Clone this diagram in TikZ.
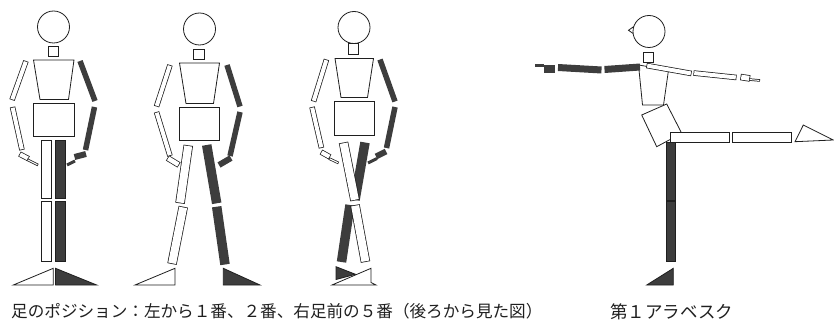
\documentclass[tikz,border=0pt]{standalone}
\usepackage{fontspec}
\newfontfamily\jpfont{Noto Sans CJK JP}
\definecolor{ink}{gray}{0.12}
\definecolor{dark}{gray}{0.24}

\begin{document}
\begin{tikzpicture}[
  x=1pt, y=-1pt,
  part/.style={draw=ink, line width=0.8pt, fill=white},
  darkpart/.style={draw=ink, line width=0.8pt, fill=dark},
  limb/.style={draw=ink, line width=#1, postaction={draw=white, line width=#1-1.5pt, shorten <=0.75pt, shorten >=0.75pt}},
  darklimb/.style={draw=dark, line width=#1},
  captext/.style={text=ink, inner sep=0pt, anchor=west}
]
\useasboundingbox (0,0) rectangle (834,323);

\draw[part] (53.5,27) circle[radius=16];
\draw[part] (48,46) rectangle (58,56);
\draw[part] (33.5,60) -- (74,60) -- (68.5,99.5) -- (40,99.5) -- cycle;
\draw[part] (33.5,103) rectangle (74,136);
\draw[limb=5.5pt] (26,61) -- (12,100);
\draw[limb=5.5pt] (12.5,107) -- (22,150);
\draw[limb=5.5pt] (19.5,154) -- (28.5,158.7);
\draw[limb=2.6pt] (27,159.5) -- (38,165);
\draw[darklimb=5.5pt] (80,61) -- (95,101);
\draw[darklimb=5.5pt] (94.5,107) -- (85.5,150);
\draw[darklimb=6pt] (86,154) -- (74.5,157);
\draw[darklimb=3pt] (75,161) -- (67,165);
\draw[part] (41.7,140) rectangle (51.7,198);
\draw[darkpart] (55.7,140) rectangle (65.7,198);
\draw[part] (41.7,201.5) rectangle (51.7,261.5);
\draw[darkpart] (55.7,201.5) rectangle (65.7,261.5);
\draw[part] (13.3,285) -- (53.3,268.3) -- (53.3,285) -- cycle;
\draw[darkpart] (55.5,268.3) -- (55.5,285) -- (96.7,285) -- cycle;

\draw[part] (199.5,29) circle[radius=16];
\draw[part] (193.5,49.5) rectangle (204,59.5);
\draw[part] (179.5,63) -- (219.5,63) -- (213.5,103.5) -- (186,103.5) -- cycle;
\draw[part] (179.5,107) rectangle (219.5,140);
\draw[limb=5.5pt] (170,65) -- (156.5,106.5);
\draw[limb=5.5pt] (156.5,112) -- (170,156);
\draw[limb=6pt] (167.5,158) -- (179,165);
\draw[darklimb=5.5pt] (227,65) -- (240,106.5);
\draw[darklimb=5.5pt] (240,112) -- (230,156);
\draw[darklimb=6pt] (231,158) -- (219,165);
\draw[limb=9.5pt] (188.3,145.3) -- (180,203.3);
\draw[limb=9.5pt] (183.3,206.7) -- (172,264);
\draw[darklimb=9.5pt] (206.7,145) -- (216.7,203.3);
\draw[darklimb=9.5pt] (216.7,206.7) -- (225,264.5);
\draw[part] (135,285) -- (175,268.3) -- (175,285) -- cycle;
\draw[darkpart] (223.3,268.3) -- (223.3,285) -- (260,285) -- cycle;

\draw[part] (354,27.5) circle[radius=16];
\draw[part] (348.5,43.5) rectangle (358.5,54);
\draw[part] (335,58.5) -- (373.5,58.5) -- (367.5,97.5) -- (341,97.5) -- cycle;
\draw[part] (334,101.5) rectangle (374,135);
\draw[limb=5.5pt] (326.5,59.5) -- (313.5,101.5);
\draw[limb=5.5pt] (312,107) -- (321.5,148);
\draw[limb=5.5pt] (321,152) -- (330,157);
\draw[limb=2.6pt] (329,158.5) -- (338.5,163);
\draw[darklimb=5.5pt] (380,59.5) -- (395,101.5);
\draw[darklimb=5.5pt] (395,107) -- (386.5,148);
\draw[darklimb=6pt] (386,151.5) -- (376,156.5);
\draw[darklimb=3pt] (377,158.5) -- (368,163);
\draw[darklimb=9.5pt] (365,142.5) -- (355,200);
\draw[limb=9.5pt] (343.5,142.5) -- (355,200.5);
\draw[darklimb=9.5pt] (350,205) -- (341.5,262);
\draw[limb=9.5pt] (355,205) -- (365.5,262);
\draw[part] (332,285) -- (371,268.3) -- (371,282.5) -- (376,285) -- cycle;
\draw[darkpart] (336,266.7) -- (336,279.5) -- (355.5,274.3) -- cycle;

\draw[part] (633.8,26.5) -- (628.5,30.3) -- (633.8,34);
\draw[part] (649,31.5) circle[radius=16];
\draw[part] (643.5,52) rectangle (653.5,62);
\draw[part] (638.5,65) -- (668.5,70) -- (663.5,105) -- (642.5,105) -- cycle;
\draw[part] (641.7,115) -- (666.7,104) -- (681.7,133.3) -- (656.7,146.7) -- cycle;
\draw[limb=5.5pt] (646.5,65.5) -- (691.5,73.5);
\draw[limb=5.5pt] (693.5,73) -- (736.5,77.5);
\draw[limb=6.5pt] (740.5,77) -- (750,78.5);
\draw[limb=2.5pt] (749,79.5) -- (760,80.5);
\draw[darklimb=7pt] (640,67) -- (604.5,69.5);
\draw[darklimb=7pt] (601.5,70) -- (558,67.5);
\draw[darklimb=7.5pt] (555,68.8) -- (543.5,68.8);
\draw[darklimb=2.4pt] (544,65.5) -- (535,65.5);
\draw[darkpart] (666.7,142) rectangle (675,200);
\draw[darkpart] (666.7,201.5) rectangle (675,261.5);
\draw[part] (670,132.7) rectangle (729.3,142.7);
\draw[part] (732.7,132.7) rectangle (791.7,142.7);
\draw[part] (795,141.7) -- (803.3,125) -- (833.3,140) -- cycle;
\draw[darkpart] (646.7,285) -- (673.3,268.3) -- (673.3,285) -- cycle;

\node[captext, font=\jpfont\fontsize{16.6}{18}\selectfont] (poscap) at (11,311.5) {足のポジション：左から１番、２番、右足前の５番（後ろから見た図）};
\node[captext, font=\jpfont\fontsize{17.5}{19}\selectfont] (arabcap) at (610,312) {第１アラベスク};
\end{tikzpicture}
\end{document}
